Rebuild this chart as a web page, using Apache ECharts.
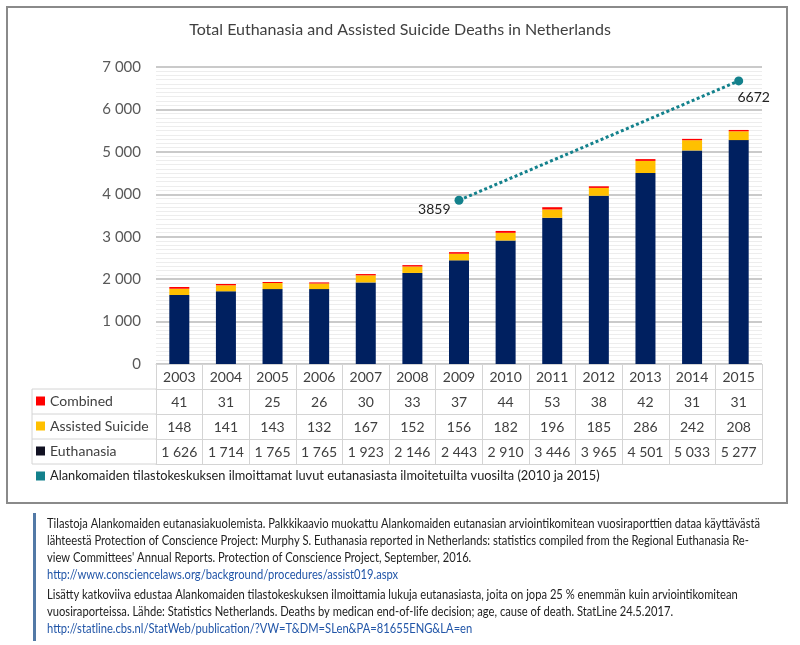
<!DOCTYPE html>
<html><head><meta charset="utf-8">
<script src="https://cdn.jsdelivr.net/npm/echarts@6/dist/echarts.min.js"></script>
<style>html,body{margin:0;padding:0;background:#fff}#c{width:800px;height:645px}</style>
</head><body><div id="c"></div>
<script>
const years = ['2003','2004','2005','2006','2007','2008','2009','2010','2011','2012','2013','2014','2015'];
const euthanasia = [1626,1714,1765,1765,1923,2146,2443,2910,3446,3965,4501,5033,5277];
const assistedSuicide = [148,141,143,132,167,152,156,182,196,185,286,242,208];
const combined = [41,31,25,26,30,33,37,44,53,38,42,31,31];
// CBS reported totals, placed where the reference draws them
const cbsLine = [null,null,null,null,null,null,3859,null,null,null,null,null,6672];
const yTicks = [0,1000,2000,3000,4000,5000,6000,7000];
const seriesNames = ['Combined','Assisted Suicide','Euthanasia'];
const cbsName = 'Alankomaiden tilastokeskuksen ilmoittamat luvut eutanasiasta ilmoitetuilta vuosilta (2010 ja 2015)';
const titleText = 'Total Euthanasia and Assisted Suicide Deaths in Netherlands';
const captionLines = [
 'Tilastoja Alankomaiden eutanasiakuolemista. Palkkikaavio muokattu Alankomaiden eutanasian arviointikomitean vuosiraporttien dataa käyttävästä',
 'lähteestä Protection of Conscience Project: Murphy S. Euthanasia reported in Netherlands: statistics compiled from the Regional Euthanasia Re-',
 "view Committees' Annual Reports. Protection of Conscience Project, September, 2016.",
 'http://www.consciencelaws.org/background/procedures/assist019.aspx',
 'Lisätty katkoviiva edustaa Alankomaiden tilastokeskuksen ilmoittamia lukuja eutanasiasta, joita on jopa 25 % enemmän kuin arviointikomitean',
 'vuosiraporteissa. Lähde: Statistics Netherlands. Deaths by medican end-of-life decision; age, cause of death. StatLine 24.5.2017.',
 'http://statline.cbs.nl/StatWeb/publication/?VW=T&DM=SLen&PA=81655ENG&LA=en'
];

function fmt(n){ n=Number(n); return n>=1000 ? Math.floor(n/1000)+' '+String(n%1000).padStart(3,'0') : String(n); }

const F = 'Lato';
const border = '#d4d4d4';
function rowAxis(data, offset, showLabel){
  return {type:'category', data:data, position:'bottom', offset:offset, gridIndex:0,
    axisLine:{show:true, lineStyle:{color:border, width:1}},
    axisTick:{show:showLabel, length:25, interval:0, lineStyle:{color:border}},
    axisLabel:{show:showLabel, interval:0, margin:5, fontFamily:F, fontSize:14, color:'#404040', lineHeight:16},
    splitLine:{show:false}};
}

const chart = echarts.init(document.getElementById('c'), null, {renderer:'canvas'});

const captionY = [524,541,558,575,595,612,629];
const graphics = [
  {type:'rect', shape:{x:7,y:7,width:780,height:496}, style:{fill:'none', stroke:'#8a8a8a', lineWidth:2}, silent:true},
  {type:'polyline', shape:{points:[[156,389],[32,389],[32,464],[156,464]]}, style:{fill:'none', stroke:border, lineWidth:1}},
  {type:'line', shape:{x1:32,y1:414,x2:156,y2:414}, style:{stroke:border, lineWidth:1}},
  {type:'line', shape:{x1:32,y1:439,x2:156,y2:439}, style:{stroke:border, lineWidth:1}},
  {type:'rect', shape:{x:33,y:513,width:3,height:128}, style:{fill:'#5279a6'}}
];
captionLines.forEach((t,i)=>{
  const isLink = t.indexOf('http')===0;
  graphics.push({type:'text', x:47, y:captionY[i], scaleX:0.86,
    style:{text:t, fontFamily:F, fontSize:13, fill: isLink ? '#2256a8' : '#222', verticalAlign:'middle', align:'left'}});
});

const cbsData = cbsLine.map((v,i)=>{
  if (v==null) return null;
  const first = i < cbsLine.length-1;
  return {value:v, label: first ? {position:'left', distance:4, offset:[0,9]} : {position:'bottom', distance:4, offset:[15,1]}};
});

chart.setOption({
  animation:false,
  backgroundColor:'#fff',
  title:{text:titleText, left:'center', top:17, textStyle:{fontFamily:F, fontSize:16, fontWeight:'normal', color:'#404040'}},
  grid:{left:156, right:38, top:67, bottom:281, containLabel:false},
  legend:{orient:'vertical', left:36, top:393, padding:0, itemGap:9, itemWidth:9, itemHeight:9, selectedMode:false,
    textStyle:{fontFamily:F, fontSize:14, color:'#404040', lineHeight:16},
    data:[
      {name:seriesNames[0], icon:'rect'},
      {name:seriesNames[1], icon:'rect'},
      {name:seriesNames[2], icon:'rect', itemStyle:{color:'#111122'}},
      {name:cbsName, icon:'rect', textStyle:{color:'#222', fontSize:12.8}}
    ]},
  xAxis:[
    rowAxis(years, 0, true),
    rowAxis(combined.map(String), 25, true),
    rowAxis(assistedSuicide.map(String), 50, true),
    rowAxis(euthanasia.map(fmt), 75, true),
    rowAxis(years, 100, false)
  ],
  yAxis:{type:'value', min:yTicks[0], max:yTicks[yTicks.length-1], interval:yTicks[1]-yTicks[0],
    axisLine:{show:false}, axisTick:{show:false},
    axisLabel:{margin:15, fontFamily:F, fontSize:15, color:'#595959', formatter:fmt},
    splitLine:{lineStyle:{color:'#b8b8b8', width:1.5}},
    minorTick:{show:false, splitNumber:10},
    minorSplitLine:{show:true, lineStyle:{color:'#ededed', width:1}}},
  series:[
    {name:seriesNames[2], type:'bar', stack:'t', data:euthanasia, barWidth:20, itemStyle:{color:'#002060'}},
    {name:seriesNames[1], type:'bar', stack:'t', data:assistedSuicide, barWidth:20, itemStyle:{color:'#FFC000'}},
    {name:seriesNames[0], type:'bar', stack:'t', data:combined, barWidth:20, itemStyle:{color:'#FF0000'}},
    {name:cbsName, type:'line', data:cbsData, connectNulls:true, symbol:'circle', symbolSize:9,
      lineStyle:{type:[3,2.5], width:3, color:'#13818c'}, itemStyle:{color:'#13818c'},
      label:{show:true, fontFamily:F, fontSize:14, color:'#222'}, z:5}
  ],
  graphic:graphics
});
</script></body></html>
